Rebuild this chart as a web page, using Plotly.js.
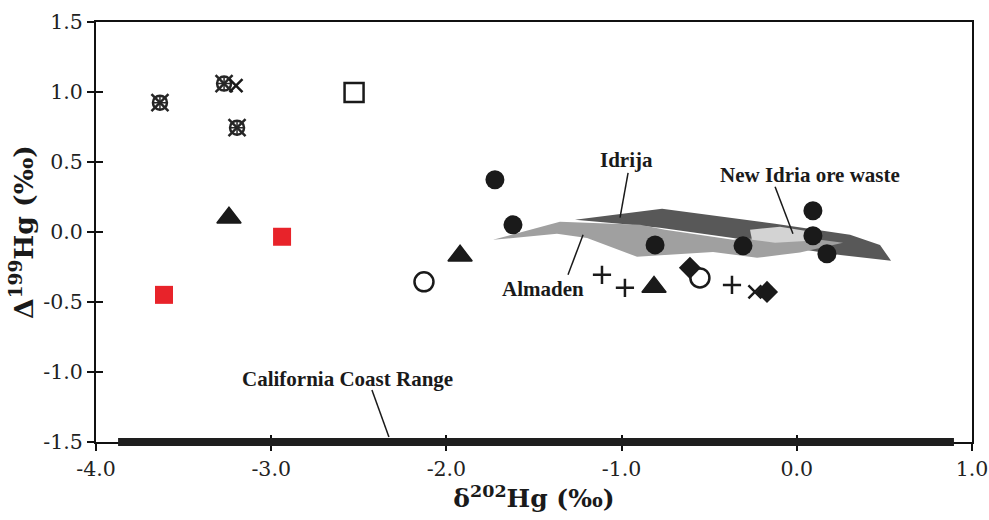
<!DOCTYPE html>
<html>
<head>
<meta charset="utf-8">
<script src="https://cdn.plot.ly/plotly-3.0.1.min.js"></script>
<style>html,body{margin:0;padding:0;background:#fff;}#chart{width:989px;height:520px;}</style>
</head>
<body>
<div id="chart"></div>
<script>
// ---- Data (δ202Hg, Δ199Hg in ‰) ----
// Field polygons
const idrijaX = [-1.266, -0.769, -0.124, 0.304, 0.475, 0.538, 0.190, -0.096, -0.364, -0.781, -1.009];
const idrijaY = [0.087, 0.166, 0.059, -0.020, -0.092, -0.206, -0.156, -0.099, -0.042, 0.030, 0.059];
const almadenX = [-1.734, -1.352, -0.895, -0.752, -0.364, -0.039, 0.264, 0.018, -0.227, -0.478, -0.912, -1.197, -1.369];
const almadenY = [-0.056, 0.073, 0.051, 0.016, -0.056, -0.027, -0.077, -0.146, -0.184, -0.142, -0.177, -0.042, -0.013];
const newIdriaX = [-0.267, -0.096, 0.047, 0.075, -0.124, -0.256];
const newIdriaY = [0.016, 0.038, 0.009, -0.062, -0.077, -0.056];
// California Coast Range (δ202Hg span at the Δ199Hg baseline)
const coastRangeX = [-3.874, 0.897];

// Sample groups
const starX = [-3.635, -3.269, -3.195];
const starY = [0.924, 1.060, 0.745];
const crossX = [-3.201, -0.239];
const crossY = [1.046, -0.428];
const openSquareX = [-2.527];
const openSquareY = [0.996];
const triangleX = [-3.241, -1.922, -0.815];
const triangleY = [0.102, -0.170, -0.392];
const redSquareX = [-3.612, -2.938];
const redSquareY = [-0.449, -0.034];
const openCircleX = [-2.128, -0.553];
const openCircleY = [-0.356, -0.328];
const circleX = [-1.723, -1.620, -0.809, -0.307, 0.092, 0.092, 0.172];
const circleY = [0.373, 0.051, -0.092, -0.099, 0.152, -0.027, -0.156];
const diamondX = [-0.610, -0.170];
const diamondY = [-0.256, -0.428];
const plusX = [-1.112, -0.981, -0.370];
const plusY = [-0.306, -0.399, -0.378];

// Labels
const labelText = ['Idrija', 'New Idria ore waste', 'Almaden', 'California Coast Range'];
const labelX = [-0.972, 0.075, -1.449, -2.562];
const labelY = [0.516, 0.409, -0.406, -1.050];
// leader lines
const leaderX0 = [-0.963, -0.124, -1.306, -2.425];
const leaderY0 = [0.423, 0.323, -0.306, -1.129];
const leaderX1 = [-1.009, -0.022, -1.220, -2.328];
const leaderY1 = [0.102, -0.013, -0.020, -1.465];

const xTickVals = [-4, -3, -2, -1, 0, 1];
const xTickText = ['-4.0', '-3.0', '-2.0', '-1.0', '0.0', '1.0'];
const yTickVals = [-1.5, -1.0, -0.5, 0, 0.5, 1.0, 1.5];
const yTickText = ['-1.5', '-1.0', '-0.5', '0.0', '0.5', '1.0', '1.5'];

// ---- Traces ----
const ink = '#1a1a1a';
function poly(x, y, color, name) {
  return {type: 'scatter', mode: 'lines', x: x, y: y, fill: 'toself', fillcolor: color,
          line: {width: 0, color: color}, name: name, hoverinfo: 'name', showlegend: false};
}
function pts(x, y, symbol, size, color, lw, name) {
  return {type: 'scatter', mode: 'markers', x: x, y: y, name: name, showlegend: false,
          marker: {symbol: symbol, size: size, color: color, line: {width: lw, color: color}}};
}
const traces = [
  poly(idrijaX, idrijaY, '#585858', 'Idrija'),
  poly(almadenX, almadenY, '#a0a0a0', 'Almaden'),
  poly(newIdriaX, newIdriaY, '#d3d3d3', 'New Idria ore waste'),
  pts(starX, starY, 'circle-open', 14, '#262626', 2.5, 'star'),
  pts(starX, starY, 'x-thin-open', 17, '#262626', 2.5, 'star'),
  pts(starX, starY, 'cross-thin-open', 11, '#262626', 1.5, 'star'),
  pts(crossX, crossY, 'x-thin-open', 13, ink, 2.5, 'x'),
  pts(openSquareX, openSquareY, 'square-open', 19, ink, 2.5, 'open square'),
  pts(triangleX, triangleY, 'triangle-up', 21, ink, 1.5, 'triangle'),
  pts(redSquareX, redSquareY, 'square', 18, '#e8232a', 0, 'red square'),
  pts(openCircleX, openCircleY, 'circle-open', 19, ink, 2.5, 'open circle'),
  pts(circleX, circleY, 'circle', 19, ink, 0, 'circle'),
  pts(diamondX, diamondY, 'diamond', 17, ink, 0, 'diamond'),
  pts(plusX, plusY, 'cross-thin-open', 13, ink, 2.5, 'plus'),
  {type: 'scatter', x: [null], y: [null], xaxis: 'x2', yaxis: 'y2', showlegend: false, hoverinfo: 'skip'}
];

const tickFont = {family: 'DejaVu Serif', size: 20.5, color: '#222'};
const xTitleFont = {family: 'DejaVu Serif', size: 25, color: '#1a1a1a', weight: 'bold'};
const yTitleFont = {family: 'DejaVu Serif', size: 26.5, color: '#1a1a1a', weight: 'bold'};
const labFont = {family: 'Liberation Serif', size: 21, color: '#1a1a1a', weight: 'bold'};

const shapes = [{
  type: 'line', xref: 'x', yref: 'paper', x0: coastRangeX[0], x1: coastRangeX[1], y0: 0, y1: 0,
  line: {color: '#1e1e1e', width: 8}, layer: 'above'
}];
for (let i = 0; i < labelText.length; i++) {
  shapes.push({type: 'line', xref: 'x', yref: 'y', x0: leaderX0[i], y0: leaderY0[i], x1: leaderX1[i], y1: leaderY1[i],
               line: {color: '#1a1a1a', width: 1.5}, layer: 'above'});
}
const annotations = labelText.map((t, i) => ({
  text: '<b>' + t + '</b>', x: labelX[i], y: labelY[i], xref: 'x', yref: 'y', showarrow: false,
  font: labFont, xanchor: 'center', yanchor: 'middle'
}));

const axCommon = {showgrid: false, zeroline: false, showline: true, linecolor: '#111', linewidth: 2,
                  ticks: 'outside', ticklen: 7, tickwidth: 2, tickcolor: '#111', tickfont: tickFont};

const layout = {
  width: 989, height: 520,
  margin: {l: 96, r: 17, t: 22, b: 78, pad: 0},
  paper_bgcolor: '#fff', plot_bgcolor: '#fff',
  showlegend: false,
  xaxis: Object.assign({}, axCommon, {range: [-4, 1], tickvals: xTickVals, ticktext: xTickText, mirror: true,
    title: {text: 'δ<sup>202</sup>Hg (‰)', font: xTitleFont, standoff: 4}}),
  yaxis: Object.assign({}, axCommon, {range: [-1.5, 1.5], tickvals: yTickVals, ticktext: yTickText, mirror: true,
    title: {text: 'Δ<sup>199</sup>Hg (‰)', font: yTitleFont, standoff: 2}}),
  xaxis2: {overlaying: 'x', anchor: 'y', side: 'bottom', range: [-4, 1], tickvals: xTickVals, showticklabels: false,
    ticks: 'inside', ticklen: 7, tickwidth: 2, tickcolor: '#111', showline: false, showgrid: false, zeroline: false},
  yaxis2: {overlaying: 'y', anchor: 'x', side: 'left', range: [-1.5, 1.5], tickvals: yTickVals, showticklabels: false,
    ticks: 'inside', ticklen: 7, tickwidth: 2, tickcolor: '#111', showline: false, showgrid: false, zeroline: false},
  shapes: shapes,
  annotations: annotations
};

Plotly.newPlot('chart', traces, layout, {displayModeBar: false, staticPlot: true});
</script>
</body>
</html>
